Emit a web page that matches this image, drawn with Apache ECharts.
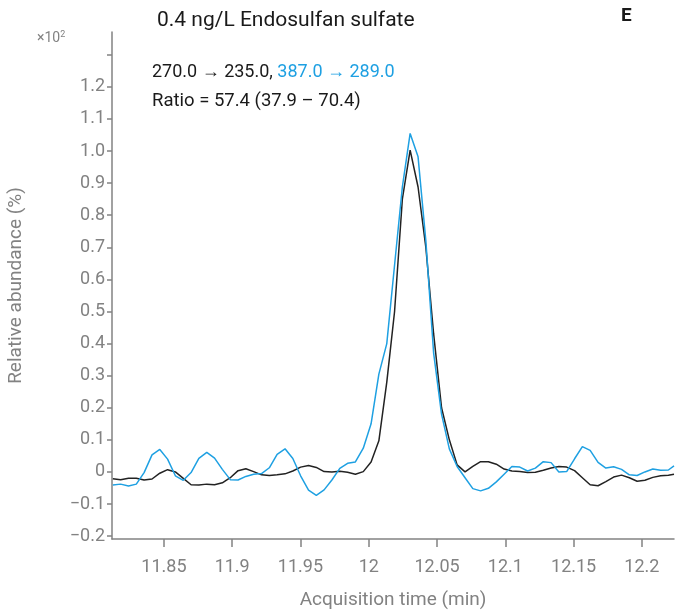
<!DOCTYPE html>
<html>
<head>
<meta charset="utf-8">
<title>Endosulfan sulfate</title>
<script src="https://cdn.jsdelivr.net/npm/echarts@6/dist/echarts.min.js"></script>
<style>
    html, body { margin: 0; padding: 0; background: #fff; }
    #chart { width: 675px; height: 613px; }
</style>
</head>
<body>
<div id="chart"></div>
<script>
// acquisition time (min)
var times = [
    11.8126, 11.8183, 11.8241, 11.8298, 11.8355, 11.8413, 11.8470, 11.8527, 11.8584, 11.8642,
    11.8699, 11.8756, 11.8814, 11.8871, 11.8928, 11.8986, 11.9043, 11.9100, 11.9157, 11.9215,
    11.9272, 11.9329, 11.9387, 11.9444, 11.9501, 11.9559, 11.9616, 11.9673, 11.9730, 11.9788,
    11.9845, 11.9902, 11.9960, 12.0017, 12.0074, 12.0132, 12.0189, 12.0246, 12.0303, 12.0361,
    12.0418, 12.0475, 12.0533, 12.0590, 12.0647, 12.0705, 12.0762, 12.0819, 12.0876, 12.0934,
    12.0991, 12.1048, 12.1106, 12.1163, 12.1220, 12.1278, 12.1335, 12.1392, 12.1449, 12.1507,
    12.1564, 12.1621, 12.1679, 12.1736, 12.1793, 12.1851, 12.1908, 12.1965, 12.2022, 12.2080,
    12.2137, 12.2194, 12.2235
];

// 270.0 -> 235.0 (black)
var quantIon = [
    -0.021, -0.024, -0.020, -0.020, -0.025, -0.022, -0.004, 0.007, 0.000, -0.020,
    -0.040, -0.041, -0.038, -0.040, -0.034, -0.018, 0.004, 0.010, 0.001, -0.009,
    -0.011, -0.009, -0.006, 0.003, 0.015, 0.020, 0.014, 0.001, 0.000, 0.002,
    -0.001, -0.007, 0.001, 0.031, 0.097, 0.280, 0.500, 0.850, 1.003, 0.888,
    0.700, 0.430, 0.200, 0.100, 0.022, 0.000, 0.017, 0.032, 0.032, 0.024,
    0.009, 0.003, 0.001, -0.002, -0.001, 0.005, 0.012, 0.017, 0.015, 0.004,
    -0.018, -0.040, -0.043, -0.030, -0.016, -0.010, -0.018, -0.029, -0.026, -0.017,
    -0.012, -0.010, -0.007
];

// 387.0 -> 289.0 (blue)
var qualIon = [
    -0.041, -0.038, -0.044, -0.038, -0.002, 0.053, 0.070, 0.040, -0.012, -0.026,
    -0.002, 0.042, 0.061, 0.043, 0.008, -0.024, -0.025, -0.014, -0.007, -0.005,
    0.013, 0.055, 0.072, 0.042, -0.012, -0.057, -0.073, -0.056, -0.025, 0.011,
    0.027, 0.031, 0.074, 0.150, 0.305, 0.400, 0.645, 0.888, 1.055, 0.982,
    0.720, 0.370, 0.180, 0.072, 0.017, -0.018, -0.052, -0.059, -0.051, -0.031,
    -0.007, 0.017, 0.015, 0.003, 0.012, 0.032, 0.029, 0.000, 0.001, 0.041,
    0.079, 0.067, 0.030, 0.012, 0.016, 0.008, -0.009, -0.011, 0.000, 0.009,
    0.005, 0.006, 0.019
];

var xTicks = [11.85, 11.9, 11.95, 12, 12.05, 12.1, 12.15, 12.2];
var yTicks = [-0.2, -0.1, 0, 0.1, 0.2, 0.3, 0.4, 0.5, 0.6, 0.7, 0.8, 0.9, 1.0, 1.1, 1.2, 1.3];
var yLabels = [-0.2, -0.1, 0, 0.1, 0.2, 0.3, 0.4, 0.5, 0.6, 0.7, 0.8, 0.9, 1.0, 1.1, 1.2];

var GREY = '#828282';
var BLUE = '#1ea0e2';
var BLACK = '#222222';
var FONT = 'Roboto, "Noto Sans", sans-serif';

function pairs(xs, ys) {
    return xs.map(function (x, i) { return [x, ys[i]]; });
}

function fmtY(v) {
    var s = Math.abs(v) < 1e-9 ? '0' : v.toFixed(1);
    return s.replace('-', '\u2212');
}

var chart = echarts.init(document.getElementById('chart'));
chart.setOption({
    animation: false,
    backgroundColor: '#fff',
    title: {
        text: '0.4 ng/L Endosulfan sulfate',
        left: 157, top: 10, padding: 0,
        textStyle: { fontFamily: FONT, fontSize: 21, fontWeight: 'normal', color: '#1a1a1a' }
    },
    graphic: [
        {
            type: 'text', left: 621, top: 7,
            style: { text: 'E', font: 'bold 19px ' + FONT, fill: '#1a1a1a' }
        },
        {
            type: 'text', left: 37, top: 30,
            style: {
                text: '{a|\u00d710}{s|2}',
                rich: {
                    a: { fontFamily: FONT, fontSize: 14, fill: GREY },
                    s: { fontFamily: FONT, fontSize: 9, fill: GREY, verticalAlign: 'top', padding: [0, 0, 7, 0] }
                }
            }
        },
        {
            type: 'text', left: 152, top: 63,
            style: {
                text: '{k|270.0 \u2192 235.0, }{b|387.0 \u2192 289.0}',
                rich: {
                    k: { fontFamily: FONT, fontSize: 18, fill: '#1a1a1a' },
                    b: { fontFamily: FONT, fontSize: 18, fill: BLUE }
                }
            }
        },
        {
            type: 'text', left: 152, top: 92,
            style: { text: 'Ratio = 57.4 (37.9 \u2013 70.4)', font: '18.5px ' + FONT, fill: '#1a1a1a' }
        }
    ],
    grid: { left: 112, right: 1, top: 32, bottom: 74, containLabel: false, outerBoundsMode: 'none' },
    xAxis: {
        type: 'value',
        min: 11.812, max: 12.2235,
        name: 'Acquisition time (min)',
        nameLocation: 'middle',
        nameGap: 52,
        nameTextStyle: { fontFamily: FONT, fontSize: 19, color: GREY },
        axisLine: { onZero: false, lineStyle: { color: GREY, width: 1.5 } },
        axisTick: { customValues: xTicks, length: 8, lineStyle: { color: GREY, width: 1.5 } },
        axisLabel: {
            customValues: xTicks, margin: 19,
            fontFamily: FONT, fontSize: 18, color: GREY,
            formatter: function (v) { return String(+v.toFixed(2)); }
        },
        splitLine: { show: false }
    },
    yAxis: {
        type: 'value',
        min: -0.209, max: 1.371,
        name: 'Relative abundance (%)',
        nameLocation: 'middle',
        nameGap: 86,
        nameTextStyle: { fontFamily: FONT, fontSize: 19, color: GREY },
        axisLine: { show: true, onZero: false, lineStyle: { color: GREY, width: 1.5 } },
        axisTick: { show: true, customValues: yTicks, length: 5, lineStyle: { color: GREY, width: 1.5 } },
        axisLabel: {
            customValues: yLabels, margin: 7,
            fontFamily: FONT, fontSize: 18, color: GREY,
            formatter: fmtY
        },
        splitLine: { show: false }
    },
    series: [
        {
            name: '270.0 \u2192 235.0', type: 'line',
            data: pairs(times, quantIon),
            showSymbol: false,
            lineStyle: { color: BLACK, width: 1.5 },
            itemStyle: { color: BLACK }
        },
        {
            name: '387.0 \u2192 289.0', type: 'line',
            data: pairs(times, qualIon),
            showSymbol: false,
            lineStyle: { color: BLUE, width: 1.5 },
            itemStyle: { color: BLUE }
        }
    ]
});
</script>
</body>
</html>
